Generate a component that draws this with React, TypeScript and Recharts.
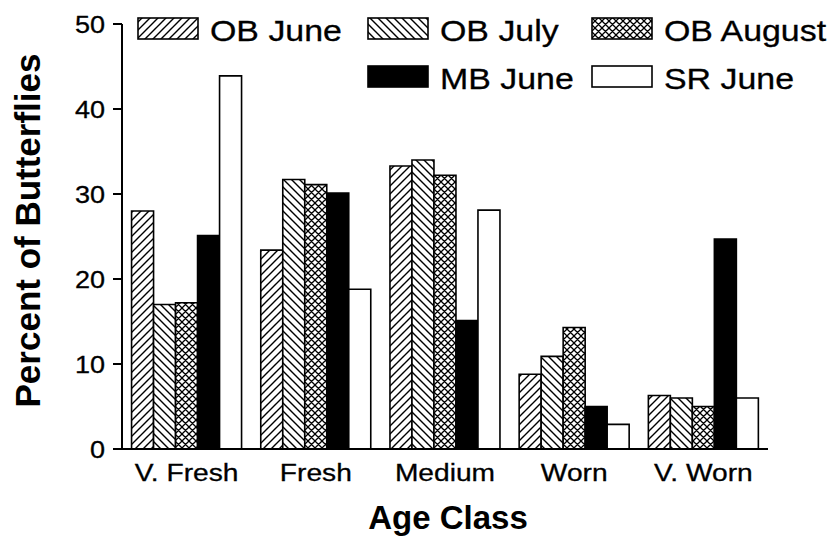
import React from 'react';
import { BarChart, Bar, XAxis, YAxis, Legend, Label } from 'recharts';

const categories = ['V. Fresh', 'Fresh', 'Medium', 'Worn', 'V. Worn'];
const obJune = [28.0, 23.4, 33.3, 8.8, 6.3];
const obJuly = [17.0, 31.7, 34.0, 10.9, 6.0];
const obAugust = [17.2, 31.1, 32.2, 14.3, 5.0];
const mbJune = [25.1, 30.1, 15.1, 5.0, 24.7];
const srJune = [43.9, 18.8, 28.1, 2.9, 6.0];
const seriesNames = ['OB June', 'OB July', 'OB August', 'MB June', 'SR June'];
const yTicks = [0, 10, 20, 30, 40, 50];
const yTitle = 'Percent of Butterflies';
const xTitle = 'Age Class';

const data = categories.map((c, i) => ({
  category: c,
  obJune: obJune[i],
  obJuly: obJuly[i],
  obAugust: obAugust[i],
  mbJune: mbJune[i],
  srJune: srJune[i],
}));

const series = [
  { key: 'obJune', name: seriesNames[0], fill: 'url(#hatchFwd)' },
  { key: 'obJuly', name: seriesNames[1], fill: 'url(#hatchBack)' },
  { key: 'obAugust', name: seriesNames[2], fill: 'url(#hatchCross)' },
  { key: 'mbJune', name: seriesNames[3], fill: '#000000' },
  { key: 'srJune', name: seriesNames[4], fill: '#ffffff' },
];

const FONT = "'Liberation Sans', Arial, Helvetica, sans-serif";
const SX = 1.15;

function SText({ x, y, anchor = 'start', size, children }: any) {
  return (
    <text
      transform={`translate(${x},${y}) scale(${SX},1)`}
      textAnchor={anchor}
      fontSize={size}
      fontFamily={FONT}
      fill="#000"
      stroke="#000"
      strokeWidth={0.3}
    >
      {children}
    </text>
  );
}

const YTick = (props: any) => (
  <SText x={props.x} y={props.y + 8.5} anchor="end" size={23.5}>
    {props.payload.value}
  </SText>
);

const XTick = (props: any) => (
  <SText x={props.x} y={props.y + 24} anchor="middle" size={24.5}>
    {props.payload.value}
  </SText>
);

const legendCols = [138, 368, 592];
const legendRows = [18, 66];
const legendCells = [
  [0, 0],
  [0, 1],
  [0, 2],
  [1, 1],
  [1, 2],
];

const renderLegend = (props: any) => {
  const payload = props.payload || [];
  const ordered = series
    .map((s) => ({ s, entry: payload.find((e: any) => e.value === s.name) }))
    .filter((o) => o.entry);
  return (
    <svg width={834} height={100} style={{ display: 'block' }}>
      {ordered.map((o: any, i: number) => {
        const cell = legendCells[i] || [0, 0];
        const sx = legendCols[cell[1]];
        const sy = legendRows[cell[0]];
        return (
          <g key={o.s.name}>
            <rect x={sx} y={sy} width={60} height={21} fill={o.s.fill} stroke="#000" strokeWidth={1.6} />
            <SText x={sx + 72} y={sy + 23} size={29.5}>
              {o.entry.value}
            </SText>
          </g>
        );
      })}
    </svg>
  );
};

const YTitle = (props: any) => {
  const vb = props.viewBox || { x: 0, y: 24, width: 122, height: 425 };
  const cy = vb.y + vb.height / 2 - 6;
  return (
    <text
      transform={`translate(40,${cy}) rotate(-90)`}
      textAnchor="middle"
      fontSize={35}
      fontWeight="bold"
      fontFamily={FONT}
      fill="#000"
    >
      {yTitle}
    </text>
  );
};

const XTitle = (props: any) => {
  const vb = props.viewBox || { x: 122, y: 449, width: 646, height: 92 };
  const cx = vb.x + vb.width / 2 + 3;
  return (
    <text x={cx} y={529} textAnchor="middle" fontSize={33} fontWeight="bold" fontFamily={FONT} fill="#000">
      {xTitle}
    </text>
  );
};

export default function App() {
  return (
    <div style={{ position: 'relative', width: 834, height: 541, background: '#fff' }}>
      <style>{'body{margin:0;background:#fff}'}</style>
      <svg width={0} height={0} style={{ position: 'absolute' }}>
        <defs>
          <pattern id="hatchFwd" patternUnits="userSpaceOnUse" width={8} height={8}>
            <rect width={8} height={8} fill="#fff" />
            <path d="M0,8 L8,0 M-2,2 L2,-2 M6,10 L10,6" stroke="#000" strokeWidth={1.4} />
          </pattern>
          <pattern id="hatchBack" patternUnits="userSpaceOnUse" width={8} height={8}>
            <rect width={8} height={8} fill="#fff" />
            <path d="M0,0 L8,8 M-2,6 L2,10 M6,-2 L10,2" stroke="#000" strokeWidth={1.4} />
          </pattern>
          <pattern id="hatchCross" patternUnits="userSpaceOnUse" width={7} height={7}>
            <rect width={7} height={7} fill="#fff" />
            <path
              d="M0,7 L7,0 M-2,2 L2,-2 M5,9 L9,5 M0,0 L7,7 M-2,5 L2,9 M5,-2 L9,2"
              stroke="#000"
              strokeWidth={1.3}
            />
          </pattern>
        </defs>
      </svg>
      <BarChart
        width={834}
        height={541}
        data={data}
        margin={{ top: 24, right: 66, bottom: 0, left: 0 }}
        barCategoryGap="7.4%"
        barGap={0}
      >
        <XAxis
          dataKey="category"
          height={92}
          axisLine={{ stroke: '#000', strokeWidth: 2 }}
          tickLine={false}
          tick={<XTick />}
          interval={0}
        >
          <Label content={<XTitle />} />
        </XAxis>
        <YAxis
          width={122}
          domain={[0, 50]}
          ticks={yTicks}
          interval={0}
          tickSize={9}
          tickMargin={8}
          axisLine={{ stroke: '#000', strokeWidth: 2 }}
          tickLine={{ stroke: '#000', strokeWidth: 2 }}
          tick={<YTick />}
        >
          <Label content={<YTitle />} />
        </YAxis>
        <Legend
          layout="horizontal"
          verticalAlign="middle"
          align="center"
          content={renderLegend}
          wrapperStyle={{ top: 0, left: 0, width: 834, height: 100 }}
        />
        {series.map((s) => (
          <Bar
            key={s.key}
            dataKey={s.key}
            name={s.name}
            fill={s.fill}
            stroke="#000"
            strokeWidth={1.6}
            isAnimationActive={false}
          />
        ))}
      </BarChart>
    </div>
  );
}
